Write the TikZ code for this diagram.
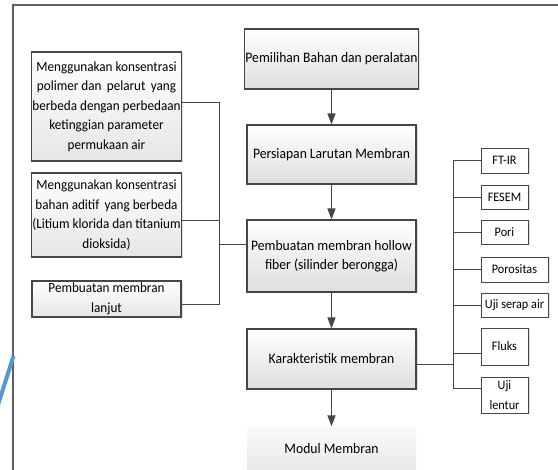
\documentclass[tikz,border=0pt]{standalone}
\usepackage{fontspec}
\setmainfont{Carlito}[FakeStretch=0.94]
\usetikzlibrary{arrows.meta,shadows}
\definecolor{edge}{RGB}{70,70,70}
\definecolor{frame}{RGB}{95,95,95}
\definecolor{bluel}{RGB}{85,150,215}
\tikzset{
  base/.style={draw=edge, line width=1.1pt, align=center, inner sep=1pt,
    font=\fontsize{14.5}{19.5}\selectfont,
    general shadow={shadow xshift=1.5pt, shadow yshift=-1.5pt, fill=black, opacity=0.12}},
  mainbox/.style={base, top color=white, bottom color=black!13, minimum width=169pt},
  leftbox/.style={base, top color=white, bottom color=black!10, minimum width=149pt, font=\fontsize{14}{19.5}\selectfont},
  smallbox/.style={base, line width=0.9pt, fill=white, minimum height=24pt, font=\fontsize{13}{19.5}\selectfont},
  modbox/.style={align=center, font=\fontsize{14.5}{19.5}\selectfont, top color=black!2, bottom color=black!9, minimum width=169pt},
  flow/.style={draw=edge, line width=1.3pt, -{Triangle[length=11pt,width=8pt]}},
  link/.style={draw=edge, line width=0.9pt},
}
\begin{document}
\begin{tikzpicture}[x=1pt,y=-1pt]
\clip (0,0) rectangle (558,470);
\fill[white] (0,0) rectangle (558,470);
% frame and blue stroke
\draw[frame, line width=1.3pt] (13,471) -- (13,5) -- (560,5);
\draw[bluel, line width=4pt] (13.5,356) -- (-3,408);
% main flow
\node[mainbox, minimum height=60pt] (b1) at (331.5,59) {Pemilihan Bahan dan peralatan};
\node[mainbox, minimum height=59pt] (b2) at (331.5,154.5) {Persiapan Larutan Membran};
\node[mainbox, minimum height=72pt] (b3) at (331.5,256) {Pembuatan membran hollow\\fiber (silinder berongga)};
\node[mainbox, minimum height=60pt] (b4) at (331.5,359) {Karakteristik membran};
\node[modbox, minimum height=45pt] (b5) at (331.5,449) {Modul Membran};
\draw[flow] (b1) -- (b2);
\draw[flow] (b2) -- (b3);
\draw[flow] (b3) -- (b4);
\draw[flow] (b4) -- (b5);
% left boxes
\node[leftbox, minimum height=109pt] (l1) at (106.5,106.5) {Menggunakan konsentrasi\\polimer dan\, pelarut\, yang\\berbeda dengan perbedaan\\ketinggian parameter\\permukaan air};
\node[leftbox, minimum height=84pt] (l2) at (106.5,215) {Menggunakan konsentrasi\\bahan aditif\, yang berbeda\\(Litium klorida dan titanium\\dioksida)};
\node[leftbox, minimum height=36pt] (l3) at (106.5,299) {Pembuatan membran\\lanjut};
\coordinate (lbus1) at (219,102);
\coordinate (lbus2) at (219,304);
\draw[link] (l1.east |- lbus1) -- (lbus1) -- (lbus2) -- (l3.east |- lbus2);
\draw[link] (l2.east |- 0,220) -- (219,220);
\draw[link] (219,244) -- (b3.west |- 0,244);
% right boxes
\node[smallbox, minimum width=47pt, minimum height=25pt] (r1) at (504.5,160.5) {FT-IR};
\node[smallbox, minimum width=47pt] (r2) at (504.5,197) {FESEM};
\node[smallbox, minimum width=47pt] (r3) at (504.5,232) {Pori};
\node[smallbox, minimum width=67pt, minimum height=25pt] (r4) at (514.5,269.5) {Porositas};
\node[smallbox, minimum width=67pt] (r5) at (514.5,305) {Uji serap air};
\node[smallbox, minimum width=47pt, minimum height=37pt] (r6) at (504.5,346.5) {Fluks};
\node[smallbox, minimum width=47pt, minimum height=36pt] (r7) at (504.5,395) {Uji\\lentur};
\coordinate (rbus1) at (453,160.5);
\coordinate (rbus2) at (453,388);
\draw[link] (r1.west) -- (rbus1) -- (rbus2) -- (r7.west |- rbus2);
\draw[link] (453,197) -- (r2.west);
\draw[link] (453,232) -- (r3.west);
\draw[link] (453,269.5) -- (r4.west);
\draw[link] (453,305) -- (r5.west);
\draw[link] (453,353) -- (r6.west |- 0,353);
\draw[link] (b4.east |- 0,364) -- (453,364);
\end{tikzpicture}
\end{document}
